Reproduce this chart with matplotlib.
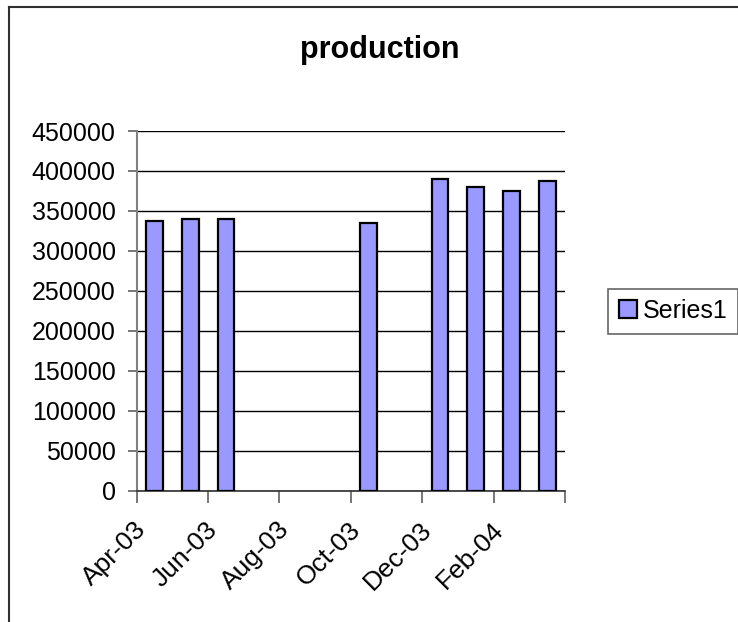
import matplotlib
matplotlib.use("Agg")
import matplotlib.pyplot as plt
from matplotlib.lines import Line2D
from matplotlib.transforms import ScaledTranslation
import numpy as np

months = ["Apr-03", "May-03", "Jun-03", "Jul-03", "Aug-03", "Sep-03",
          "Oct-03", "Nov-03", "Dec-03", "Jan-04", "Feb-04", "Mar-04"]
production = [338000, 340000, 340000, np.nan, np.nan, np.nan,
              335000, np.nan, 390000, 380000, 375000, 387500]
tick_labels = ["Apr-03", "Jun-03", "Aug-03", "Oct-03", "Dec-03", "Feb-04", ""]
y_ticks = [0, 50000, 100000, 150000, 200000, 250000, 300000, 350000, 400000, 450000]

plt.rcParams['font.family'] = ['Liberation Sans', 'DejaVu Sans']

W, H = 738, 622
fig = plt.figure(figsize=(W / 100, H / 100), dpi=100)
fig.patch.set_facecolor('white')

left, right, top, bottom = 136.7, 565, 131, 491
ax = fig.add_axes([left / W, 1 - bottom / H, (right - left) / W, (bottom - top) / H])

x = np.arange(len(months))
vals = np.array(production, dtype=float)
mask = ~np.isnan(vals)
ax.bar(x[mask], vals[mask], width=0.47, color='#9999FF', edgecolor='black',
       linewidth=1.6, zorder=3, label='Series1')

ax.set_xlim(-0.5, len(months) - 0.5)
ax.set_ylim(0, 450000)
ax.set_yticks(y_ticks)
ax.set_yticklabels([str(v) for v in y_ticks], fontsize=18)
ax.yaxis.grid(True, color='black', linewidth=1.0, zorder=0)
ax.set_axisbelow(True)

tick_pos = np.arange(-0.5, len(months), 2)
ax.set_xticks(tick_pos)
ax.set_xticklabels(tick_labels, fontsize=19, rotation=45, ha='right',
                   va='center', rotation_mode='anchor')
ax.tick_params(axis='x', length=8.5, width=1.2, color='#606060', pad=16.5)
ax.tick_params(axis='y', length=6.3, width=1.2, color='#606060', pad=8.8)
offset = ScaledTranslation(0.06, 0, fig.dpi_scale_trans)
for lab in ax.get_xticklabels():
    lab.set_transform(lab.get_transform() + offset)

for s in ['top', 'right']:
    ax.spines[s].set_visible(False)
ax.spines['left'].set_color('#808080')
ax.spines['left'].set_linewidth(1.5)
ax.spines['bottom'].set_color('#303030')
ax.spines['bottom'].set_linewidth(1.2)

fig.text(380 / W, 1 - 50 / H, 'production', ha='center', va='center',
         fontsize=22, fontweight='bold')

leg = fig.legend(handles=ax.containers[0][:1], labels=['Series1'],
                 loc='center left', bbox_to_anchor=(608 / W, 1 - 311 / H),
                 fontsize=18, frameon=True, fancybox=False,
                 handlelength=0.72, handleheight=0.72, handletextpad=0.25,
                 borderpad=0.42, borderaxespad=0)
leg.get_frame().set_edgecolor('#404040')
leg.get_frame().set_linewidth(1.2)

# chart area border (left and top edges)
fig.add_artist(Line2D([8.5 / W, 8.5 / W], [0, 1 - 6.5 / H], transform=fig.transFigure,
                      color='#303030', linewidth=1.5))
fig.add_artist(Line2D([8.5 / W, 1], [1 - 6.5 / H, 1 - 6.5 / H], transform=fig.transFigure,
                      color='#303030', linewidth=1.5))

fig.savefig('out.png', dpi=100, facecolor='white')
